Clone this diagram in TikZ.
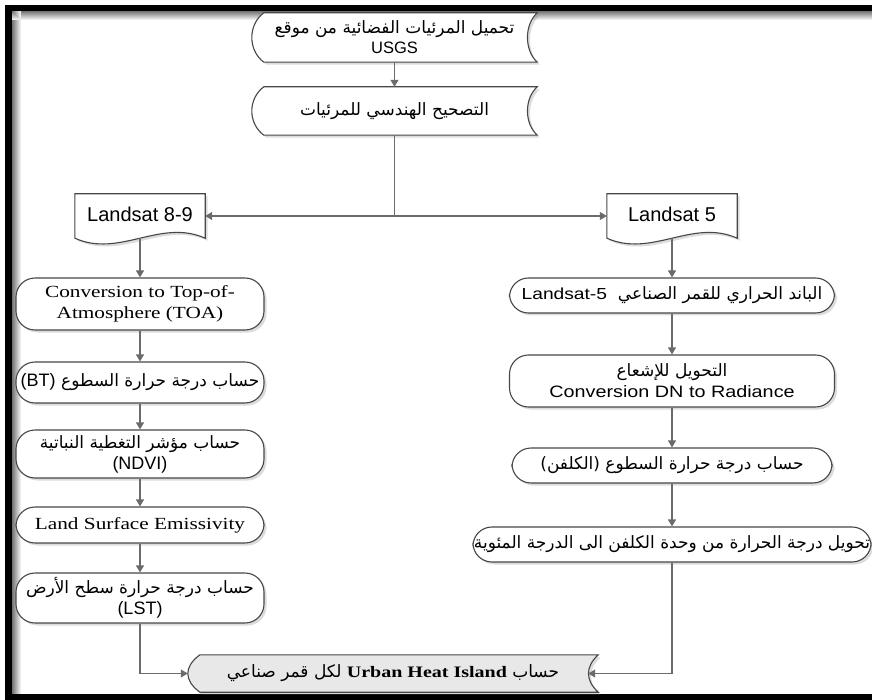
\documentclass[tikz,border=0pt]{standalone}
\usepackage{fontspec}
\setmainfont{Liberation Sans}
\newfontfamily\ar[Script=Arabic]{DejaVu Sans}
\newfontfamily\tms[FakeStretch=1.25]{Liberation Serif}
\newfontfamily\wsans[FakeStretch=1.2]{Liberation Sans}
\usetikzlibrary{calc,arrows.meta,shadows,backgrounds}
\TeXXeTstate=1
\newcommand\storedshape[2]{%
 \path[outline,#2] ($(#1.north west)+(12,0)$) -- (#1.north east)
   .. controls ($(#1.north east)+(-13,12)$) and ($(#1.south east)+(-13,-12)$) .. (#1.south east)
   -- ($(#1.south west)+(12,0)$)
   .. controls ($(#1.south west)+(-4,-12)$) and ($(#1.north west)+(-4,12)$) .. cycle;}
\newcommand\docshape[1]{%
 \path[outline] (#1.north west) -- (#1.north east) -- (#1.south east)
   .. controls ($(#1.south east)+(-45,-20)$) and ($(#1.south west)+(45,20)$) .. (#1.south west) -- cycle;}
\newcommand\arsz{\fontsize{17pt}{21pt}\selectfont}
\tikzset{
 outline/.style={draw=black!72, line width=1.1pt, fill=white,
   drop shadow={shadow xshift=2.5pt, shadow yshift=-2.5pt, opacity=0.28}},
 txt/.style={rectangle, inner sep=0pt, align=center},
 term/.style={rectangle, rounded corners=19pt, outline, align=center, inner sep=1pt},
 arf/.style={font=\ar\arsz},
 conn/.style={draw=black!58, line width=1.1pt, -{Triangle[length=7pt,width=8pt]}},
 plainline/.style={draw=black!58, line width=1.1pt},
}
\begin{document}
\begin{tikzpicture}[x=1pt,y=-1pt]
\useasboundingbox (0,0) rectangle (872,700);

% top nodes
\node[txt, minimum width=285pt, minimum height=49pt, font=\fontsize{16.5pt}{20pt}\selectfont] (usgs) at (394.5,37.5)
  {{\ar\arsz\beginR تحميل المرئيات الفضائية من موقع\endR}\\USGS};
\node[txt, minimum width=285pt, minimum height=48pt, arf] (geo) at (394.5,111)
  {\beginR التصحيح الهندسي للمرئيات\endR};

% Landsat documents
\node[txt, minimum width=130pt, minimum height=44pt, font=\fontsize{20pt}{22pt}\selectfont] (ls89) at (140,216)
  {\raisebox{3pt}{Landsat 8-9}};
\node[txt, minimum width=130pt, minimum height=44pt, font=\fontsize{20pt}{22pt}\selectfont] (ls5) at (672,216)
  {\raisebox{3pt}{Landsat 5}};

% left column
\node[term, minimum width=248pt, minimum height=52pt, font=\tms\fontsize{17pt}{21pt}\selectfont] (toa) at (140,304)
  {Conversion to Top-of-\\Atmosphere (TOA)};
\node[term, minimum width=248pt, minimum height=41pt, arf] (bt) at (140,382.5)
  {\beginR حساب درجة حرارة السطوع \beginL{\rmfamily\fontsize{18pt}{20pt}\selectfont(BT)}\endL\endR};
\node[term, minimum width=248pt, minimum height=48pt, font=\fontsize{18pt}{21pt}\selectfont] (ndvi) at (140,454)
  {{\ar\arsz\beginR حساب مؤشر التغطية النباتية\endR}\\(NDVI)};
\node[term, minimum width=248pt, minimum height=36pt, font=\tms\fontsize{17pt}{20pt}\selectfont] (lse) at (140,525)
  {Land Surface Emissivity};
\node[term, minimum width=248pt, minimum height=50pt, font=\fontsize{18pt}{21pt}\selectfont] (lst) at (140,598)
  {{\ar\arsz\beginR حساب درجة حرارة سطح الأرض\endR}\\(LST)};

% right column
\node[term, minimum width=325pt, minimum height=35pt, arf] (th) at (672,295.5)
  {\beginR الباند الحراري للقمر الصناعي\ \ \beginL{\wsans\fontsize{16pt}{18pt}\selectfont Landsat-5}\endL\endR};
\node[term, minimum width=325pt, minimum height=52pt, font=\wsans\fontsize{16.5pt}{21pt}\selectfont] (rad) at (672,381)
  {{\ar\arsz\beginR التحويل للإشعاع\endR}\\Conversion DN to Radiance};
\node[term, minimum width=320pt, minimum height=35pt, arf] (kel) at (672,465.5)
  {\beginR حساب درجة حرارة السطوع (الكلفن)\endR};
\node[term, minimum width=398pt, minimum height=35pt, arf] (cel) at (672,544.5)
  {\beginR تحويل درجة الحرارة من وحدة الكلفن الى الدرجة المئوية\endR};

% final node
\node[txt, minimum width=410pt, minimum height=37pt, arf] (fin) at (393,673.5)
  {\beginR حساب \beginL{\tms\bfseries\fontsize{16pt}{18pt}\selectfont Urban Heat Island}\endL{} لكل قمر صناعي\endR};

\begin{pgfonlayer}{background}
 % frame with inner shadow
 \foreach \i in {0,...,8}{
   \pgfmathsetmacro\g{55-6*\i}
   \fill[black!\g] (12+\i,11) rectangle (13+\i,694);
   \fill[black!\g] (12,11+\i) rectangle (872,12+\i);
 }
 \fill[black] (5,5) rectangle (872,11);
 \fill[black] (5,5) rectangle (12,700);
 \fill[black] (5,694) rectangle (872,700);
 \storedshape{usgs}{}
 \storedshape{geo}{}
 \storedshape{fin}{fill=black!9}
 \docshape{ls89}
 \docshape{ls5}
\end{pgfonlayer}

% connectors
\coordinate (jn) at (394.5,216);
\coordinate (fine) at ($(fin.east)+(-10,0)$);
\draw[conn] (usgs) -- (geo);
\draw[plainline] (geo) -- (jn);
\draw[conn] (jn) -- (ls89);
\draw[conn] (jn) -- (ls5);
\draw[conn] (ls89) -- (toa);
\draw[conn] (toa) -- (bt);
\draw[conn] (bt) -- (ndvi);
\draw[conn] (ndvi) -- (lse);
\draw[conn] (lse) -- (lst);
\draw[conn] (ls5) -- (th);
\draw[conn] (th) -- (rad);
\draw[conn] (rad) -- (kel);
\draw[conn] (kel) -- (cel);
\draw[conn] (lst.south) |- (fin.west);
\draw[conn] (cel.south) |- (fine);
\end{tikzpicture}
\end{document}
